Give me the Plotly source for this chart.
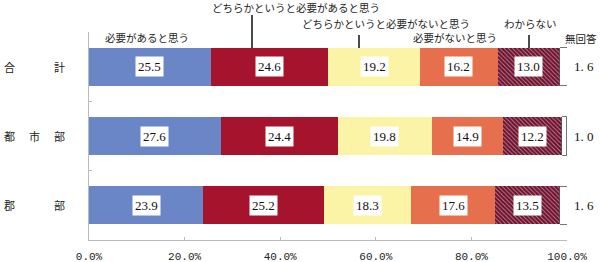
import plotly.graph_objects as go

categories = ["合計", "都市部", "郡部"]
series_names = ["必要があると思う", "どちらかというと必要があると思う",
                "どちらかというと必要がないと思う", "必要がないと思う",
                "わからない", "無回答"]
values = {
    "必要があると思う": [25.5, 27.6, 23.9],
    "どちらかというと必要があると思う": [24.6, 24.4, 25.2],
    "どちらかというと必要がないと思う": [19.2, 19.8, 18.3],
    "必要がないと思う": [16.2, 14.9, 17.6],
    "わからない": [13.0, 12.2, 13.5],
    "無回答": [1.6, 1.0, 1.6],
}
tick_vals = [0, 20, 40, 60, 80, 100]
tick_text = ["0.0%", "20.0%", "40.0%", "60.0%", "80.0%", "100.0%"]

colors = ["#6B86C6", "#A5132D", "#FBF3A6", "#E6704D", "#6E0F2C", "#FFFFFF"]

W, H = 600, 262
L, R, T, B = 89, 33, 32, 22
PW, PH = W - L - R, H - T - B
def px(x):
    return (x - L) / PW
def py(y):
    return (H - B - y) / PH

JP = "Noto Sans CJK JP"
NUM = "Liberation Serif"
MONO = "Liberation Mono"

fig = go.Figure()
for i, name in enumerate(series_names):
    marker = dict(color=colors[i])
    if name == "わからない":
        marker["pattern"] = dict(shape="\\", fgcolor="#FFFFFF", size=3,
                                 solidity=0.3, fillmode="overlay")
    if name == "無回答":
        marker["line"] = dict(color="#555555", width=0.8)
    else:
        marker["line"] = dict(width=0)
    fig.add_trace(go.Bar(y=categories, x=values[name], orientation="h",
                         name=name, marker=marker, showlegend=False))

annotations = []
# value labels in white boxes
for ci, cat in enumerate(categories):
    cum = 0.0
    for name in series_names:
        v = values[name][ci]
        if name != "無回答":
            annotations.append(dict(x=cum + v / 2, y=cat, xref="x", yref="y",
                                    text=f"{v:.1f}", showarrow=False,
                                    xanchor="center", yanchor="middle",
                                    bgcolor="#FFFFFF", borderpad=2,
                                    font=dict(family=NUM, size=13, color="#111111")))
        else:
            annotations.append(dict(x=px(584), y=cat, xref="paper", yref="y",
                                    text=f"{v:.1f}".replace(".", ". "), showarrow=False,
                                    xanchor="center", yanchor="middle",
                                    font=dict(family=NUM, size=13, color="#111111")))
        cum += v

# category labels, characters spread across a fixed span
for cat in categories:
    n = len(cat)
    for k, ch in enumerate(cat):
        cx = 9 + (59.5 - 9) * k / (n - 1)
        annotations.append(dict(x=px(cx), y=cat, xref="paper", yref="y",
                                text=ch, showarrow=False,
                                xanchor="center", yanchor="middle",
                                font=dict(family=JP, size=11, color="#222222")))

# series labels above
label_pos = [(147, 37), (296, 8), (386, 24), (455, 37), (530, 24), (581, 38)]
for name, (lx, ly) in zip(series_names, label_pos):
    annotations.append(dict(x=px(lx), y=py(ly), xref="paper", yref="paper",
                            text=name, showarrow=False,
                            xanchor="center", yanchor="middle",
                            font=dict(family=JP, size=10.5, color="#222222")))

shapes = []
for lx, y0 in [(252, 15), (359, 35), (529, 35)]:
    shapes.append(dict(type="line", xref="paper", yref="paper",
                       x0=px(lx), x1=px(lx), y0=py(y0), y1=py(48),
                       line=dict(color="#111111", width=1.5)))

fig.update_layout(
    width=W, height=H,
    margin=dict(l=L, r=R, t=T, b=B),
    barmode="stack", bargap=0.45,
    plot_bgcolor="#FFFFFF", paper_bgcolor="#FFFFFF",
    annotations=annotations, shapes=shapes,
    xaxis=dict(range=[0, 100], tickvals=tick_vals, ticktext=tick_text,
               showgrid=False, zeroline=False, showline=True,
               linecolor="#BBBBBB", linewidth=1, ticks="inside", ticklen=3,
               tickcolor="#BBBBBB", ticklabelstandoff=6, automargin=False,
               tickfont=dict(family=MONO, size=11, color="#222222")),
    yaxis=dict(autorange="reversed", showticklabels=False, showgrid=False,
               showline=True, linecolor="#BBBBBB", linewidth=1,
               ticks="inside", ticklen=3, tickcolor="#BBBBBB",
               tickson="boundaries"),
)

fig.write_html("out.html")
